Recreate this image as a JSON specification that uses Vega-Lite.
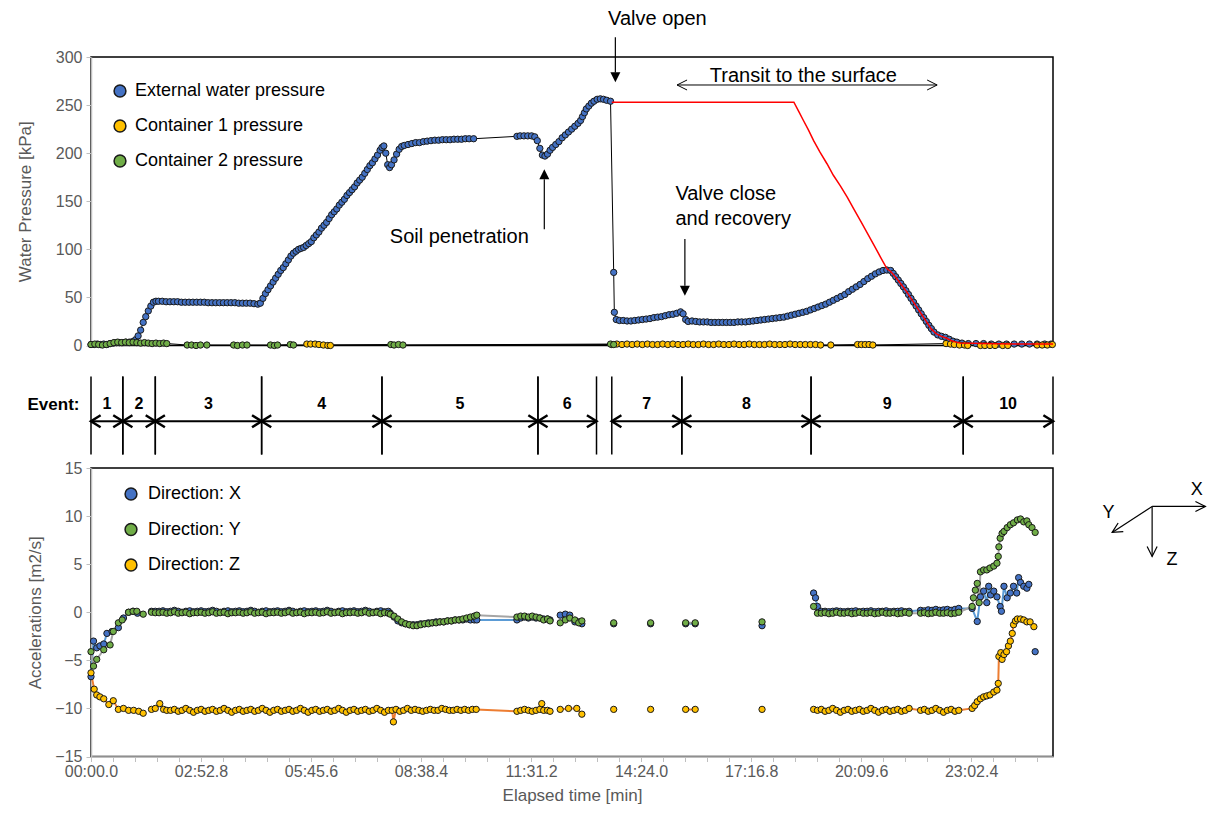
{
"$schema":"https://vega.github.io/schema/vega-lite/v6.json",
"padding":{"left":15,"top":8,"right":2,"bottom":2},
"background":"white",
"spacing":10,
"bounds":"flush",
"config":{
 "font":"Liberation Sans",
 "view":{"stroke":"#000","strokeWidth":1.5},
 "axis":{"domainColor":"#BFBFBF","domainWidth":1.5,"tickColor":"#BFBFBF","tickSize":5,"labelColor":"#595959","labelFontSize":16,"titleColor":"#595959","titleFontSize":17,"titleFontWeight":"normal","grid":false,"labelPadding":4,"labelOverlap":false},
 "legend":{"labelFontSize":18,"labelColor":"#000","symbolSize":140,"symbolType":"circle","rowPadding":16,"labelOffset":12,"padding":0,"labelLimit":500}
},
"resolve":{"scale":{"color":"independent","x":"independent","y":"independent"},"legend":{"color":"independent"}},
"datasets":{
"ext":[{"sec":0,"kPa":1},{"sec":5,"kPa":1},{"sec":10,"kPa":1.5},{"sec":15,"kPa":1},{"sec":20,"kPa":1.5},{"sec":25,"kPa":1},{"sec":30,"kPa":2},{"sec":35,"kPa":2.5},{"sec":40,"kPa":3},{"sec":45,"kPa":3},{"sec":50,"kPa":3},{"sec":55,"kPa":3.5},{"sec":60,"kPa":3.5},{"sec":65,"kPa":4},{"sec":70,"kPa":6},{"sec":74,"kPa":10},{"sec":78,"kPa":16},{"sec":82,"kPa":24},{"sec":86,"kPa":30},{"sec":90,"kPa":36},{"sec":94,"kPa":41},{"sec":98,"kPa":45},{"sec":102,"kPa":46},{"sec":106,"kPa":46},{"sec":112,"kPa":46},{"sec":118,"kPa":45.5},{"sec":124,"kPa":45.5},{"sec":130,"kPa":45.5},{"sec":136,"kPa":45.5},{"sec":142,"kPa":45},{"sec":148,"kPa":45},{"sec":154,"kPa":45},{"sec":160,"kPa":45},{"sec":166,"kPa":45},{"sec":172,"kPa":45},{"sec":178,"kPa":45},{"sec":184,"kPa":44.5},{"sec":190,"kPa":44.5},{"sec":196,"kPa":44.5},{"sec":202,"kPa":44.5},{"sec":208,"kPa":44.5},{"sec":214,"kPa":44.5},{"sec":220,"kPa":44.5},{"sec":226,"kPa":44.5},{"sec":232,"kPa":44},{"sec":238,"kPa":44},{"sec":244,"kPa":44},{"sec":250,"kPa":44},{"sec":256,"kPa":43.5},{"sec":262,"kPa":43},{"sec":266,"kPa":44},{"sec":270,"kPa":49},{"sec":274,"kPa":54},{"sec":278,"kPa":58},{"sec":282,"kPa":62},{"sec":286,"kPa":66},{"sec":290,"kPa":70},{"sec":294,"kPa":74},{"sec":298,"kPa":78},{"sec":302,"kPa":81},{"sec":306,"kPa":85},{"sec":310,"kPa":89},{"sec":314,"kPa":93},{"sec":318,"kPa":96},{"sec":322,"kPa":98},{"sec":326,"kPa":100},{"sec":330,"kPa":101},{"sec":334,"kPa":102},{"sec":338,"kPa":104},{"sec":342,"kPa":106},{"sec":346,"kPa":108},{"sec":350,"kPa":112},{"sec":354,"kPa":115},{"sec":358,"kPa":118},{"sec":362,"kPa":122},{"sec":366,"kPa":125},{"sec":370,"kPa":128},{"sec":374,"kPa":132},{"sec":378,"kPa":136},{"sec":382,"kPa":139},{"sec":386,"kPa":142},{"sec":390,"kPa":146},{"sec":394,"kPa":149},{"sec":398,"kPa":152},{"sec":402,"kPa":156},{"sec":406,"kPa":159},{"sec":410,"kPa":162},{"sec":414,"kPa":165},{"sec":418,"kPa":169},{"sec":422,"kPa":172},{"sec":426,"kPa":175},{"sec":430,"kPa":179},{"sec":434,"kPa":183},{"sec":438,"kPa":187},{"sec":442,"kPa":190},{"sec":446,"kPa":194},{"sec":450,"kPa":198},{"sec":454,"kPa":203},{"sec":457,"kPa":206},{"sec":460,"kPa":207.5},{"sec":463,"kPa":200},{"sec":466,"kPa":188},{"sec":469,"kPa":185},{"sec":472,"kPa":188},{"sec":476,"kPa":193},{"sec":480,"kPa":199},{"sec":484,"kPa":204},{"sec":488,"kPa":207},{"sec":492,"kPa":208},{"sec":498,"kPa":209},{"sec":504,"kPa":210},{"sec":510,"kPa":211},{"sec":516,"kPa":211},{"sec":522,"kPa":212},{"sec":528,"kPa":212.5},{"sec":534,"kPa":213},{"sec":540,"kPa":213.5},{"sec":546,"kPa":213.5},{"sec":552,"kPa":214},{"sec":558,"kPa":214},{"sec":564,"kPa":214},{"sec":570,"kPa":214.5},{"sec":576,"kPa":214.5},{"sec":582,"kPa":214.5},{"sec":588,"kPa":215},{"sec":594,"kPa":215},{"sec":601,"kPa":215},{"sec":669,"kPa":217.5},{"sec":674,"kPa":218},{"sec":680,"kPa":218},{"sec":686,"kPa":218},{"sec":692,"kPa":218},{"sec":697,"kPa":217},{"sec":701,"kPa":213},{"sec":705,"kPa":205},{"sec":709,"kPa":198},{"sec":713,"kPa":197},{"sec":717,"kPa":199},{"sec":721,"kPa":203},{"sec":725,"kPa":206},{"sec":730,"kPa":209},{"sec":735,"kPa":212},{"sec":740,"kPa":216},{"sec":745,"kPa":219},{"sec":750,"kPa":222},{"sec":755,"kPa":225},{"sec":760,"kPa":228},{"sec":765,"kPa":231},{"sec":769,"kPa":234},{"sec":772,"kPa":238},{"sec":775,"kPa":242},{"sec":778,"kPa":246},{"sec":782,"kPa":249},{"sec":786,"kPa":252},{"sec":790,"kPa":254},{"sec":795,"kPa":256},{"sec":800,"kPa":256.5},{"sec":805,"kPa":256},{"sec":810,"kPa":255},{"sec":816,"kPa":254},{"sec":821,"kPa":76},{"sec":822,"kPa":34.5},{"sec":825,"kPa":27},{"sec":830,"kPa":26},{"sec":836,"kPa":26},{"sec":842,"kPa":25.5},{"sec":848,"kPa":25.5},{"sec":854,"kPa":26},{"sec":860,"kPa":26.5},{"sec":866,"kPa":27},{"sec":872,"kPa":27.5},{"sec":878,"kPa":28},{"sec":884,"kPa":29},{"sec":890,"kPa":29.5},{"sec":896,"kPa":30},{"sec":902,"kPa":31},{"sec":908,"kPa":32},{"sec":914,"kPa":32.5},{"sec":920,"kPa":33.5},{"sec":926,"kPa":35},{"sec":930,"kPa":33},{"sec":934,"kPa":27},{"sec":938,"kPa":25},{"sec":944,"kPa":25.5},{"sec":950,"kPa":25},{"sec":956,"kPa":24.5},{"sec":962,"kPa":24.5},{"sec":968,"kPa":24.5},{"sec":974,"kPa":24},{"sec":980,"kPa":24},{"sec":986,"kPa":24},{"sec":992,"kPa":24},{"sec":998,"kPa":24},{"sec":1004,"kPa":24},{"sec":1010,"kPa":24},{"sec":1016,"kPa":24.5},{"sec":1022,"kPa":24.5},{"sec":1028,"kPa":24.5},{"sec":1034,"kPa":25},{"sec":1040,"kPa":25.5},{"sec":1046,"kPa":26},{"sec":1052,"kPa":26.5},{"sec":1058,"kPa":27},{"sec":1064,"kPa":27.5},{"sec":1070,"kPa":28},{"sec":1076,"kPa":28.5},{"sec":1082,"kPa":29},{"sec":1088,"kPa":29.5},{"sec":1094,"kPa":30.5},{"sec":1100,"kPa":31.5},{"sec":1106,"kPa":32.5},{"sec":1112,"kPa":33.5},{"sec":1118,"kPa":34.5},{"sec":1124,"kPa":35.5},{"sec":1130,"kPa":37},{"sec":1136,"kPa":38.5},{"sec":1142,"kPa":40},{"sec":1148,"kPa":41.5},{"sec":1154,"kPa":43},{"sec":1160,"kPa":45},{"sec":1166,"kPa":47},{"sec":1172,"kPa":49},{"sec":1178,"kPa":51},{"sec":1184,"kPa":53},{"sec":1190,"kPa":56},{"sec":1196,"kPa":58.5},{"sec":1202,"kPa":61},{"sec":1208,"kPa":63.5},{"sec":1214,"kPa":66.5},{"sec":1220,"kPa":69.5},{"sec":1226,"kPa":72},{"sec":1232,"kPa":74.5},{"sec":1238,"kPa":76.5},{"sec":1244,"kPa":78},{"sec":1250,"kPa":78.5},{"sec":1256,"kPa":78},{"sec":1260,"kPa":75},{"sec":1264,"kPa":71.5},{"sec":1268,"kPa":68},{"sec":1272,"kPa":64.5},{"sec":1276,"kPa":61},{"sec":1280,"kPa":57},{"sec":1284,"kPa":53},{"sec":1288,"kPa":49},{"sec":1292,"kPa":45},{"sec":1296,"kPa":41},{"sec":1300,"kPa":37},{"sec":1304,"kPa":33},{"sec":1308,"kPa":29},{"sec":1312,"kPa":25},{"sec":1316,"kPa":21},{"sec":1320,"kPa":17.5},{"sec":1324,"kPa":14},{"sec":1330,"kPa":11},{"sec":1336,"kPa":9.5},{"sec":1342,"kPa":8.5},{"sec":1348,"kPa":6.5},{"sec":1354,"kPa":4.5},{"sec":1360,"kPa":3.5},{"sec":1368,"kPa":2.5},{"sec":1378,"kPa":2},{"sec":1390,"kPa":2},{"sec":1402,"kPa":2},{"sec":1414,"kPa":1.5},{"sec":1426,"kPa":1.5},{"sec":1438,"kPa":1.5},{"sec":1450,"kPa":1.5},{"sec":1462,"kPa":1.5},{"sec":1474,"kPa":1.5},{"sec":1486,"kPa":1.5},{"sec":1498,"kPa":1.5},{"sec":1508,"kPa":1.5}],
"c1":[{"sec":339,"kPa":1.5},{"sec":345,"kPa":1.5},{"sec":352,"kPa":1.5},{"sec":358,"kPa":1},{"sec":365,"kPa":0.5},{"sec":372,"kPa":0},{"sec":376,"kPa":0},{"sec":818,"kPa":1},{"sec":826,"kPa":1.5},{"sec":834,"kPa":1},{"sec":842,"kPa":1.5},{"sec":850,"kPa":1},{"sec":858,"kPa":1.5},{"sec":866,"kPa":1},{"sec":874,"kPa":1.5},{"sec":882,"kPa":1},{"sec":890,"kPa":1},{"sec":898,"kPa":1.5},{"sec":906,"kPa":1},{"sec":914,"kPa":1.5},{"sec":922,"kPa":1},{"sec":930,"kPa":1},{"sec":938,"kPa":1.5},{"sec":946,"kPa":1},{"sec":954,"kPa":1},{"sec":962,"kPa":1.5},{"sec":970,"kPa":1},{"sec":978,"kPa":1},{"sec":986,"kPa":1.5},{"sec":994,"kPa":1},{"sec":1002,"kPa":1},{"sec":1010,"kPa":1.5},{"sec":1018,"kPa":1},{"sec":1026,"kPa":1},{"sec":1034,"kPa":1.5},{"sec":1042,"kPa":1},{"sec":1050,"kPa":1},{"sec":1058,"kPa":1},{"sec":1066,"kPa":1.5},{"sec":1074,"kPa":1},{"sec":1082,"kPa":1},{"sec":1090,"kPa":1},{"sec":1098,"kPa":1.5},{"sec":1106,"kPa":1},{"sec":1114,"kPa":1},{"sec":1122,"kPa":1},{"sec":1130,"kPa":1},{"sec":1138,"kPa":1},{"sec":1146,"kPa":0.5},{"sec":1162,"kPa":0.5},{"sec":1204,"kPa":1},{"sec":1210,"kPa":1},{"sec":1216,"kPa":1},{"sec":1222,"kPa":1},{"sec":1228,"kPa":0.5},{"sec":1343,"kPa":2},{"sec":1350,"kPa":1.5},{"sec":1356,"kPa":1},{"sec":1364,"kPa":0.5},{"sec":1372,"kPa":0.5},{"sec":1377,"kPa":0},{"sec":1397,"kPa":0},{"sec":1404,"kPa":0},{"sec":1412,"kPa":0},{"sec":1420,"kPa":0},{"sec":1432,"kPa":0},{"sec":1440,"kPa":0},{"sec":1486,"kPa":0.5},{"sec":1494,"kPa":0.5},{"sec":1502,"kPa":0.5},{"sec":1510,"kPa":1}],
"c2":[{"sec":0,"kPa":1},{"sec":6,"kPa":1.5},{"sec":12,"kPa":1},{"sec":18,"kPa":0.5},{"sec":24,"kPa":1},{"sec":30,"kPa":2},{"sec":36,"kPa":3},{"sec":42,"kPa":3.5},{"sec":48,"kPa":3},{"sec":54,"kPa":3.5},{"sec":60,"kPa":3},{"sec":66,"kPa":3.5},{"sec":72,"kPa":3},{"sec":78,"kPa":2.5},{"sec":84,"kPa":3},{"sec":90,"kPa":2.5},{"sec":96,"kPa":2},{"sec":102,"kPa":2.5},{"sec":108,"kPa":2},{"sec":114,"kPa":2.5},{"sec":119,"kPa":2},{"sec":151,"kPa":0.5},{"sec":158,"kPa":0.5},{"sec":165,"kPa":0},{"sec":172,"kPa":0.5},{"sec":182,"kPa":0.5},{"sec":224,"kPa":0.5},{"sec":230,"kPa":0},{"sec":238,"kPa":0.5},{"sec":245,"kPa":0.5},{"sec":282,"kPa":0.5},{"sec":288,"kPa":0},{"sec":293,"kPa":0.5},{"sec":313,"kPa":1},{"sec":318,"kPa":0.5},{"sec":471,"kPa":1},{"sec":476,"kPa":0.5},{"sec":483,"kPa":1},{"sec":490,"kPa":0.5},{"sec":816,"kPa":1.5},{"sec":821,"kPa":1}],
"transit":[{"sec":818,"kPa":253},{"sec":860,"kPa":253},{"sec":900,"kPa":253},{"sec":950,"kPa":253},{"sec":1000,"kPa":253},{"sec":1050,"kPa":253},{"sec":1104,"kPa":253},{"sec":1112,"kPa":243},{"sec":1119,"kPa":234},{"sec":1127,"kPa":224},{"sec":1135,"kPa":213},{"sec":1145,"kPa":201},{"sec":1156,"kPa":189},{"sec":1166,"kPa":177},{"sec":1177,"kPa":166},{"sec":1188,"kPa":154},{"sec":1198,"kPa":142},{"sec":1210,"kPa":128},{"sec":1220,"kPa":116},{"sec":1230,"kPa":104},{"sec":1240,"kPa":92},{"sec":1250,"kPa":80},{"sec":1256,"kPa":77},{"sec":1264,"kPa":71},{"sec":1272,"kPa":64},{"sec":1280,"kPa":57},{"sec":1288,"kPa":49},{"sec":1296,"kPa":41},{"sec":1304,"kPa":33},{"sec":1312,"kPa":25},{"sec":1320,"kPa":17},{"sec":1328,"kPa":12},{"sec":1336,"kPa":9.5},{"sec":1344,"kPa":7.5},{"sec":1350,"kPa":5.5},{"sec":1356,"kPa":4},{"sec":1365,"kPa":2.5},{"sec":1400,"kPa":2},{"sec":1450,"kPa":1.5},{"sec":1511,"kPa":1.5}],
"events":[{"event":"1","start":0,"end":50},{"event":"2","start":50,"end":101},{"event":"3","start":101,"end":268},{"event":"4","start":268,"end":457},{"event":"5","start":457,"end":702},{"event":"6","start":702,"end":794},{"event":"7","start":818,"end":928},{"event":"8","start":928,"end":1131},{"event":"9","start":1131,"end":1370},{"event":"10","start":1370,"end":1511}],
"accX":[{"sec":0,"acc":-6.7},{"sec":4,"acc":-3.0},{"sec":9,"acc":-3.7},{"sec":14,"acc":-3.5},{"sec":20,"acc":-3.3},{"sec":25,"acc":-2.2},{"sec":33,"acc":-2.0},{"sec":43,"acc":-1.6},{"sec":51,"acc":-0.6},{"sec":59,"acc":0},{"sec":66,"acc":0.1},{"sec":73,"acc":-0.1},{"sec":88,"acc":null},{"sec":95,"acc":0.1},{"sec":101,"acc":0.1},
{"sec":107,"acc":0.1},{"sec":113,"acc":0.15},{"sec":119,"acc":0.05},{"sec":125,"acc":0.1},{"sec":131,"acc":0.2},{"sec":137,"acc":0.1},{"sec":143,"acc":0},{"sec":149,"acc":0.1},{"sec":155,"acc":0.15},{"sec":161,"acc":0.05},{"sec":167,"acc":0.1},{"sec":173,"acc":0.15},{"sec":179,"acc":0.05},{"sec":185,"acc":0.1},{"sec":191,"acc":0.2},{"sec":197,"acc":0.1},{"sec":203,"acc":0},{"sec":209,"acc":0.1},{"sec":215,"acc":0.15},{"sec":221,"acc":0.05},{"sec":227,"acc":0.1},{"sec":233,"acc":0.15},{"sec":239,"acc":0.05},{"sec":245,"acc":0.1},{"sec":251,"acc":0.2},{"sec":257,"acc":0.1},{"sec":263,"acc":0},{"sec":269,"acc":0.1},{"sec":275,"acc":0.15},{"sec":281,"acc":0.05},{"sec":287,"acc":0.1},{"sec":293,"acc":0.15},{"sec":299,"acc":0.05},{"sec":305,"acc":0.1},{"sec":311,"acc":0.2},{"sec":317,"acc":0.1},{"sec":323,"acc":0},{"sec":329,"acc":0.1},{"sec":335,"acc":0.15},{"sec":341,"acc":0.05},{"sec":347,"acc":0.1},{"sec":353,"acc":0.15},{"sec":359,"acc":0.05},{"sec":365,"acc":0.1},{"sec":371,"acc":0.2},{"sec":377,"acc":0.1},{"sec":383,"acc":0},{"sec":389,"acc":0.1},{"sec":395,"acc":0.15},{"sec":401,"acc":0.05},{"sec":407,"acc":0.1},{"sec":413,"acc":0.15},{"sec":419,"acc":0.05},{"sec":425,"acc":0.1},{"sec":431,"acc":0.2},{"sec":437,"acc":0.1},{"sec":443,"acc":0},{"sec":449,"acc":0.1},{"sec":455,"acc":0.15},{"sec":461,"acc":0.05},{"sec":467,"acc":0.1},
{"sec":470,"acc":-0.1},{"sec":476,"acc":-0.5},{"sec":482,"acc":-0.9},{"sec":488,"acc":-1.1},{"sec":494,"acc":-1.2},{"sec":500,"acc":-1.3},{"sec":506,"acc":-1.3},{"sec":512,"acc":-1.3},{"sec":518,"acc":-1.2},{"sec":524,"acc":-1.2},{"sec":530,"acc":-1.1},{"sec":536,"acc":-1.1},{"sec":542,"acc":-1.0},{"sec":548,"acc":-1.0},{"sec":554,"acc":-1.0},{"sec":560,"acc":-0.9},{"sec":566,"acc":-0.9},{"sec":572,"acc":-0.8},{"sec":578,"acc":-0.8},{"sec":584,"acc":-0.8},{"sec":590,"acc":-0.7},{"sec":596,"acc":-0.8},{"sec":602,"acc":-0.8},{"sec":606,"acc":-0.8},{"sec":669,"acc":-0.8},{"sec":675,"acc":-0.6},{"sec":681,"acc":-0.5},{"sec":687,"acc":-0.6},{"sec":693,"acc":-0.5},{"sec":699,"acc":-0.6},{"sec":705,"acc":-0.6},{"sec":711,"acc":-0.7},{"sec":717,"acc":-0.7},{"sec":721,"acc":-0.8},{"sec":729,"acc":null},{"sec":737,"acc":-0.3},{"sec":745,"acc":-0.2},{"sec":752,"acc":-0.3},{"sec":760,"acc":-1.0},{"sec":766,"acc":-1.0},{"sec":771,"acc":-1.2},{"sec":790,"acc":null},{"sec":821,"acc":-1.2},{"sec":850,"acc":null},{"sec":879,"acc":-1.2},{"sec":905,"acc":null},{"sec":934,"acc":-1.2},{"sec":949,"acc":-1.2},{"sec":990,"acc":null},{"sec":1054,"acc":-1.4},{"sec":1100,"acc":null},
{"sec":1135,"acc":2.0},{"sec":1138,"acc":1.5},{"sec":1141,"acc":0.6},{"sec":1147,"acc":0.1},{"sec":1153,"acc":0.1},{"sec":1159,"acc":0.05},{"sec":1165,"acc":0.1},{"sec":1171,"acc":0.15},{"sec":1177,"acc":0.1},{"sec":1183,"acc":0.05},{"sec":1189,"acc":0.1},{"sec":1195,"acc":0.1},{"sec":1201,"acc":0.15},{"sec":1207,"acc":0.05},{"sec":1213,"acc":0.1},{"sec":1219,"acc":0.1},{"sec":1225,"acc":0.15},{"sec":1231,"acc":0.05},{"sec":1237,"acc":0.1},{"sec":1243,"acc":0.1},{"sec":1249,"acc":0.15},{"sec":1255,"acc":0.05},{"sec":1261,"acc":0.1},{"sec":1267,"acc":0.1},{"sec":1273,"acc":0.15},{"sec":1279,"acc":0.05},{"sec":1285,"acc":0.1},{"sec":1303,"acc":0.2},{"sec":1309,"acc":0.15},{"sec":1315,"acc":0.25},{"sec":1321,"acc":0.2},{"sec":1327,"acc":0.3},{"sec":1333,"acc":0.2},{"sec":1339,"acc":0.25},{"sec":1345,"acc":0.3},{"sec":1351,"acc":0.2},{"sec":1357,"acc":0.3},{"sec":1363,"acc":0.4},
{"sec":1384,"acc":0.4},{"sec":1392,"acc":-0.96},{"sec":1397,"acc":1.6},{"sec":1402,"acc":2.2},{"sec":1407,"acc":1.0},{"sec":1410,"acc":2.7},{"sec":1413,"acc":1.8},{"sec":1418,"acc":2.2},{"sec":1423,"acc":1.6},{"sec":1428,"acc":0.6},{"sec":1430,"acc":0.1},{"sec":1434,"acc":2.7},{"sec":1439,"acc":1.5},{"sec":1444,"acc":2.0},{"sec":1449,"acc":2.7},{"sec":1454,"acc":2.0},{"sec":1457,"acc":3.6},{"sec":1460,"acc":3.1},{"sec":1465,"acc":2.7},{"sec":1470,"acc":2.5},{"sec":1473,"acc":2.9},{"sec":1478,"acc":null},{"sec":1483,"acc":-4.1}],
"accY":[{"sec":0,"acc":-4.1},{"sec":4,"acc":-5.6},{"sec":9,"acc":-4.9},{"sec":20,"acc":-3.9},{"sec":30,"acc":-3.4},{"sec":35,"acc":-2.0},{"sec":43,"acc":-1.1},{"sec":49,"acc":-0.8},{"sec":59,"acc":0},{"sec":66,"acc":0.1},{"sec":72,"acc":0.1},{"sec":82,"acc":-0.2},{"sec":88,"acc":null},{"sec":95,"acc":0},{"sec":101,"acc":-0.05},
{"sec":107,"acc":-0.05},{"sec":113,"acc":0},{"sec":119,"acc":-0.1},{"sec":125,"acc":-0.05},{"sec":131,"acc":0.05},{"sec":137,"acc":-0.1},{"sec":143,"acc":-0.05},{"sec":149,"acc":0},{"sec":155,"acc":-0.15},{"sec":161,"acc":-0.05},{"sec":167,"acc":-0.05},{"sec":173,"acc":0},{"sec":179,"acc":-0.1},{"sec":185,"acc":-0.05},{"sec":191,"acc":0.05},{"sec":197,"acc":-0.1},{"sec":203,"acc":-0.05},{"sec":209,"acc":0},{"sec":215,"acc":-0.15},{"sec":221,"acc":-0.05},{"sec":227,"acc":-0.05},{"sec":233,"acc":0},{"sec":239,"acc":-0.1},{"sec":245,"acc":-0.05},{"sec":251,"acc":0.05},{"sec":257,"acc":-0.1},{"sec":263,"acc":-0.05},{"sec":269,"acc":0},{"sec":275,"acc":-0.15},{"sec":281,"acc":-0.05},{"sec":287,"acc":-0.05},{"sec":293,"acc":0},{"sec":299,"acc":-0.1},{"sec":305,"acc":-0.05},{"sec":311,"acc":0.05},{"sec":317,"acc":-0.1},{"sec":323,"acc":-0.05},{"sec":329,"acc":0},{"sec":335,"acc":-0.15},{"sec":341,"acc":-0.05},{"sec":347,"acc":-0.05},{"sec":353,"acc":0},{"sec":359,"acc":-0.1},{"sec":365,"acc":-0.05},{"sec":371,"acc":0.05},{"sec":377,"acc":-0.1},{"sec":383,"acc":-0.05},{"sec":389,"acc":0},{"sec":395,"acc":-0.15},{"sec":401,"acc":-0.05},{"sec":407,"acc":-0.05},{"sec":413,"acc":0},{"sec":419,"acc":-0.1},{"sec":425,"acc":-0.05},{"sec":431,"acc":0.05},{"sec":437,"acc":-0.1},{"sec":443,"acc":-0.05},{"sec":449,"acc":0},{"sec":455,"acc":-0.15},{"sec":461,"acc":-0.05},{"sec":467,"acc":-0.1},
{"sec":470,"acc":-0.2},{"sec":476,"acc":-0.4},{"sec":482,"acc":-0.7},{"sec":488,"acc":-1.0},{"sec":494,"acc":-1.2},{"sec":500,"acc":-1.3},{"sec":506,"acc":-1.4},{"sec":512,"acc":-1.4},{"sec":518,"acc":-1.3},{"sec":524,"acc":-1.2},{"sec":530,"acc":-1.2},{"sec":536,"acc":-1.1},{"sec":542,"acc":-1.1},{"sec":548,"acc":-1.0},{"sec":554,"acc":-1.0},{"sec":560,"acc":-0.9},{"sec":566,"acc":-0.9},{"sec":572,"acc":-0.8},{"sec":578,"acc":-0.8},{"sec":584,"acc":-0.7},{"sec":590,"acc":-0.6},{"sec":596,"acc":-0.5},{"sec":602,"acc":-0.4},{"sec":606,"acc":-0.3},{"sec":669,"acc":-0.5},{"sec":675,"acc":-0.4},{"sec":681,"acc":-0.4},{"sec":687,"acc":-0.5},{"sec":693,"acc":-0.4},{"sec":699,"acc":-0.5},{"sec":705,"acc":-0.6},{"sec":711,"acc":-0.8},{"sec":717,"acc":-0.7},{"sec":721,"acc":-0.9},{"sec":729,"acc":null},{"sec":737,"acc":-1.1},{"sec":745,"acc":-0.8},{"sec":752,"acc":-0.6},{"sec":760,"acc":-0.8},{"sec":766,"acc":-1.1},{"sec":771,"acc":-0.9},{"sec":790,"acc":null},{"sec":821,"acc":-1.1},{"sec":850,"acc":null},{"sec":879,"acc":-1.1},{"sec":905,"acc":null},{"sec":934,"acc":-1.1},{"sec":949,"acc":-1.1},{"sec":990,"acc":null},{"sec":1054,"acc":-1.0},{"sec":1100,"acc":null},
{"sec":1135,"acc":0.6},{"sec":1141,"acc":-0.1},{"sec":1147,"acc":-0.1},{"sec":1153,"acc":-0.05},{"sec":1159,"acc":-0.15},{"sec":1165,"acc":-0.1},{"sec":1171,"acc":0},{"sec":1177,"acc":-0.1},{"sec":1183,"acc":-0.1},{"sec":1189,"acc":-0.05},{"sec":1195,"acc":-0.15},{"sec":1201,"acc":-0.1},{"sec":1207,"acc":0},{"sec":1213,"acc":-0.1},{"sec":1219,"acc":-0.1},{"sec":1225,"acc":-0.05},{"sec":1231,"acc":-0.15},{"sec":1237,"acc":-0.1},{"sec":1243,"acc":0},{"sec":1249,"acc":-0.1},{"sec":1255,"acc":-0.1},{"sec":1261,"acc":-0.05},{"sec":1267,"acc":-0.15},{"sec":1273,"acc":-0.1},{"sec":1279,"acc":0},{"sec":1285,"acc":-0.1},{"sec":1303,"acc":-0.1},{"sec":1309,"acc":-0.05},{"sec":1315,"acc":-0.15},{"sec":1321,"acc":-0.1},{"sec":1327,"acc":0},{"sec":1333,"acc":-0.1},{"sec":1339,"acc":-0.1},{"sec":1345,"acc":-0.05},{"sec":1351,"acc":-0.15},{"sec":1357,"acc":-0.1},{"sec":1363,"acc":0},
{"sec":1384,"acc":0.6},{"sec":1386,"acc":1.5},{"sec":1389,"acc":2.3},{"sec":1392,"acc":3.0},{"sec":1395,"acc":1.0},{"sec":1397,"acc":4.2},{"sec":1402,"acc":4.4},{"sec":1407,"acc":4.4},{"sec":1412,"acc":4.6},{"sec":1418,"acc":4.8},{"sec":1423,"acc":5.1},{"sec":1425,"acc":5.8},{"sec":1426,"acc":6.8},{"sec":1428,"acc":7.7},{"sec":1431,"acc":8.2},{"sec":1434,"acc":8.4},{"sec":1439,"acc":8.8},{"sec":1444,"acc":9.1},{"sec":1449,"acc":9.3},{"sec":1455,"acc":9.6},{"sec":1460,"acc":9.7},{"sec":1465,"acc":9.4},{"sec":1470,"acc":9.5},{"sec":1473,"acc":9.1},{"sec":1478,"acc":8.8},{"sec":1483,"acc":8.3}],
"accZ":[{"sec":0,"acc":-6.3},{"sec":5,"acc":-8.0},{"sec":9,"acc":-8.6},{"sec":14,"acc":-8.8},{"sec":20,"acc":-9.0},{"sec":28,"acc":-9.6},{"sec":35,"acc":-9.2},{"sec":43,"acc":-10.1},{"sec":51,"acc":-10.0},{"sec":59,"acc":-10.2},{"sec":67,"acc":-10.2},{"sec":75,"acc":-10.3},{"sec":82,"acc":-10.5},{"sec":88,"acc":null},{"sec":95,"acc":-10.1},{"sec":101,"acc":-10.0},{"sec":108,"acc":-9.5},{"sec":114,"acc":-10.1},{"sec":119,"acc":-10.2},
{"sec":125,"acc":-10.2},{"sec":131,"acc":-10.1},{"sec":137,"acc":-10.3},{"sec":143,"acc":-10.2},{"sec":149,"acc":-10.0},{"sec":155,"acc":-10.2},{"sec":161,"acc":-10.4},{"sec":167,"acc":-10.2},{"sec":173,"acc":-10.1},{"sec":179,"acc":-10.3},{"sec":185,"acc":-10.2},{"sec":191,"acc":-10.1},{"sec":197,"acc":-10.3},{"sec":203,"acc":-10.2},{"sec":209,"acc":-10.0},{"sec":215,"acc":-10.2},{"sec":221,"acc":-10.4},{"sec":227,"acc":-10.2},{"sec":233,"acc":-10.1},{"sec":239,"acc":-10.3},{"sec":245,"acc":-10.2},{"sec":251,"acc":-10.1},{"sec":257,"acc":-10.3},{"sec":263,"acc":-10.2},{"sec":269,"acc":-10.0},{"sec":275,"acc":-10.2},{"sec":281,"acc":-10.4},{"sec":287,"acc":-10.2},{"sec":293,"acc":-10.1},{"sec":299,"acc":-10.3},{"sec":305,"acc":-10.2},{"sec":311,"acc":-10.1},{"sec":317,"acc":-10.3},{"sec":323,"acc":-10.2},{"sec":329,"acc":-10.0},{"sec":335,"acc":-10.2},{"sec":341,"acc":-10.4},{"sec":347,"acc":-10.2},{"sec":353,"acc":-10.1},{"sec":359,"acc":-10.3},{"sec":365,"acc":-10.2},{"sec":371,"acc":-10.1},{"sec":377,"acc":-10.3},{"sec":383,"acc":-10.2},{"sec":389,"acc":-10.0},{"sec":395,"acc":-10.2},{"sec":401,"acc":-10.4},{"sec":407,"acc":-10.2},{"sec":413,"acc":-10.1},{"sec":419,"acc":-10.3},{"sec":425,"acc":-10.2},{"sec":431,"acc":-10.1},{"sec":437,"acc":-10.3},{"sec":443,"acc":-10.2},{"sec":449,"acc":-10.0},{"sec":455,"acc":-10.2},{"sec":461,"acc":-10.4},{"sec":467,"acc":-10.2},
{"sec":473,"acc":-10.2},{"sec":475,"acc":-11.4},{"sec":479,"acc":-10.1},{"sec":485,"acc":-10.3},{"sec":491,"acc":-10.2},{"sec":497,"acc":-10.0},{"sec":503,"acc":-10.2},{"sec":509,"acc":-10.1},{"sec":515,"acc":-10.2},{"sec":521,"acc":-10.3},{"sec":527,"acc":-10.2},{"sec":533,"acc":-10.1},{"sec":539,"acc":-10.2},{"sec":545,"acc":-10.2},{"sec":551,"acc":-10.0},{"sec":557,"acc":-10.1},{"sec":563,"acc":-10.2},{"sec":569,"acc":-10.2},{"sec":575,"acc":-10.1},{"sec":581,"acc":-10.2},{"sec":587,"acc":-10.1},{"sec":593,"acc":-10.2},{"sec":599,"acc":-10.1},{"sec":605,"acc":-10.1},
{"sec":669,"acc":-10.3},{"sec":675,"acc":-10.2},{"sec":681,"acc":-10.1},{"sec":687,"acc":-10.2},{"sec":693,"acc":-10.3},{"sec":699,"acc":-10.2},{"sec":705,"acc":-10.1},{"sec":708,"acc":-9.5},{"sec":711,"acc":-10.2},{"sec":717,"acc":-10.2},{"sec":721,"acc":-10.3},{"sec":729,"acc":null},{"sec":737,"acc":-10.1},{"sec":750,"acc":-10.0},{"sec":763,"acc":-10.0},{"sec":771,"acc":-10.6},{"sec":790,"acc":null},{"sec":821,"acc":-10.1},{"sec":850,"acc":null},{"sec":879,"acc":-10.1},{"sec":905,"acc":null},{"sec":934,"acc":-10.1},{"sec":949,"acc":-10.1},{"sec":990,"acc":null},{"sec":1054,"acc":-10.1},{"sec":1100,"acc":null},
{"sec":1135,"acc":-10.1},{"sec":1141,"acc":-10.2},{"sec":1147,"acc":-10.1},{"sec":1153,"acc":-10.3},{"sec":1159,"acc":-10.2},{"sec":1165,"acc":-10.0},{"sec":1171,"acc":-10.2},{"sec":1177,"acc":-10.4},{"sec":1183,"acc":-10.2},{"sec":1189,"acc":-10.1},{"sec":1195,"acc":-10.3},{"sec":1201,"acc":-10.2},{"sec":1207,"acc":-10.1},{"sec":1213,"acc":-10.3},{"sec":1219,"acc":-10.2},{"sec":1225,"acc":-10.0},{"sec":1231,"acc":-10.2},{"sec":1237,"acc":-10.4},{"sec":1243,"acc":-10.2},{"sec":1249,"acc":-10.1},{"sec":1255,"acc":-10.3},{"sec":1261,"acc":-10.2},{"sec":1267,"acc":-10.1},{"sec":1273,"acc":-10.3},{"sec":1279,"acc":-10.2},{"sec":1285,"acc":-10.0},{"sec":1303,"acc":-10.2},{"sec":1309,"acc":-10.1},{"sec":1315,"acc":-10.3},{"sec":1321,"acc":-10.2},{"sec":1327,"acc":-10.0},{"sec":1333,"acc":-10.2},{"sec":1339,"acc":-10.4},{"sec":1345,"acc":-10.2},{"sec":1351,"acc":-10.1},{"sec":1357,"acc":-10.3},{"sec":1363,"acc":-10.2},
{"sec":1384,"acc":-10.0},{"sec":1388,"acc":-9.7},{"sec":1392,"acc":-9.3},{"sec":1397,"acc":-9.0},{"sec":1402,"acc":-8.8},{"sec":1407,"acc":-8.7},{"sec":1412,"acc":-8.6},{"sec":1418,"acc":-8.3},{"sec":1423,"acc":-8.1},{"sec":1425,"acc":-7.4},{"sec":1426,"acc":-4.6},{"sec":1429,"acc":-4.2},{"sec":1431,"acc":-4.9},{"sec":1434,"acc":-4.4},{"sec":1438,"acc":-4.1},{"sec":1441,"acc":-3.5},{"sec":1444,"acc":-3.0},{"sec":1447,"acc":-2.2},{"sec":1449,"acc":-1.3},{"sec":1452,"acc":-0.9},{"sec":1455,"acc":-0.7},{"sec":1460,"acc":-0.7},{"sec":1465,"acc":-0.8},{"sec":1470,"acc":-1.0},{"sec":1475,"acc":-1.0},{"sec":1481,"acc":-1.5}]
},
"vconcat":[
{
 "width":962,"height":288.5,
 "layer":[
  {"data":{"name":"c1"},"mark":{"type":"line","color":"#000","strokeWidth":1},
   "encoding":{"x":{"field":"sec","type":"quantitative","scale":{"domain":[0,1511],"nice":false,"zero":false},"axis":null},
    "y":{"field":"kPa","type":"quantitative","scale":{"domain":[0,300],"nice":false},"axis":{"values":[0,50,100,150,200,250,300],"title":"Water Pressure [kPa]","titlePadding":21}}}},
  {"data":{"name":"c2"},"mark":{"type":"line","color":"#000","strokeWidth":1},"encoding":{"x":{"field":"sec","type":"quantitative"},"y":{"field":"kPa","type":"quantitative"}}},
  {"data":{"name":"ext"},"mark":{"type":"line","color":"#000","strokeWidth":1},"encoding":{"x":{"field":"sec","type":"quantitative"},"y":{"field":"kPa","type":"quantitative"}}},
  {"data":{"name":"ext"},"mark":{"type":"point","filled":true,"size":40,"stroke":"#1a1a1a","strokeWidth":1,"opacity":1},
   "encoding":{"x":{"field":"sec","type":"quantitative"},"y":{"field":"kPa","type":"quantitative"},
    "color":{"datum":"External water pressure","type":"nominal","scale":{"domain":["External water pressure","Container 1 pressure","Container 2 pressure"],"range":["#4472C4","#FFC000","#70AD47"]},
     "legend":{"title":null,"orient":"none","legendX":20,"legendY":25,"rowPadding":17,"labelOffset":6,"encode":{"symbols":{"update":{"stroke":{"value":"#111"},"strokeWidth":{"value":1.5}}}}}}}},
  {"data":{"name":"c1"},"mark":{"type":"point","filled":true,"size":40,"stroke":"#1a1a1a","strokeWidth":1,"opacity":1},
   "encoding":{"x":{"field":"sec","type":"quantitative"},"y":{"field":"kPa","type":"quantitative"},"color":{"datum":"Container 1 pressure","type":"nominal"}}},
  {"data":{"name":"c2"},"mark":{"type":"point","filled":true,"size":40,"stroke":"#1a1a1a","strokeWidth":1,"opacity":1},
   "encoding":{"x":{"field":"sec","type":"quantitative"},"y":{"field":"kPa","type":"quantitative"},"color":{"datum":"Container 2 pressure","type":"nominal"}}},
  {"data":{"name":"transit"},"mark":{"type":"line","color":"#FF0000","strokeWidth":1.5},"encoding":{"x":{"field":"sec","type":"quantitative"},"y":{"field":"kPa","type":"quantitative"}}},
  {"data":{"values":[{}]},"mark":{"type":"text","text":"Valve open","fontSize":20,"color":"#000","align":"center","baseline":"middle"},"encoding":{"x":{"datum":889.6},"y":{"datum":339.5}}},
  {"data":{"values":[{}]},"mark":{"type":"rule","color":"#000","strokeWidth":1.2},"encoding":{"x":{"datum":823.6},"y":{"datum":320.5},"y2":{"datum":284}}},
  {"data":{"values":[{}]},"mark":{"type":"point","shape":"M-0.5,-1L0.5,-1L0,0Z","size":400,"filled":true,"color":"#000","strokeWidth":0,"opacity":1},"encoding":{"x":{"datum":823.6},"y":{"datum":273.7}}},
  {"data":{"values":[{}]},"mark":{"type":"text","text":"Transit to the surface","fontSize":20,"color":"#000","align":"center","baseline":"middle"},"encoding":{"x":{"datum":1118.9},"y":{"datum":280.2}}},
  {"data":{"values":[{}]},"mark":{"type":"rule","color":"#000","strokeWidth":1},"encoding":{"x":{"datum":920.5},"x2":{"datum":1329},"y":{"datum":270.9}}},
  {"data":{"values":[{}]},"mark":{"type":"point","shape":"M-1,-0.5L0,0L-1,0.5","size":400,"filled":false,"color":"#000","strokeWidth":1,"angle":180,"opacity":1},"encoding":{"x":{"datum":920.5},"y":{"datum":270.9}}},
  {"data":{"values":[{}]},"mark":{"type":"point","shape":"M-1,-0.5L0,0L-1,0.5","size":400,"filled":false,"color":"#000","strokeWidth":1,"opacity":1},"encoding":{"x":{"datum":1329},"y":{"datum":270.9}}},
  {"data":{"values":[{}]},"mark":{"type":"text","text":"Soil penetration","fontSize":20,"color":"#000","align":"center","baseline":"middle"},"encoding":{"x":{"datum":578.5},"y":{"datum":112.5}}},
  {"data":{"values":[{}]},"mark":{"type":"rule","color":"#000","strokeWidth":1.2},"encoding":{"x":{"datum":712},"y":{"datum":121},"y2":{"datum":173}}},
  {"data":{"values":[{}]},"mark":{"type":"point","shape":"M-0.5,1L0.5,1L0,0Z","size":400,"filled":true,"color":"#000","strokeWidth":0,"opacity":1},"encoding":{"x":{"datum":712},"y":{"datum":183.4}}},
  {"data":{"values":[{}]},"mark":{"type":"text","text":"Valve close","fontSize":20,"color":"#000","align":"left","baseline":"middle"},"encoding":{"x":{"datum":917.9},"y":{"datum":157.5}}},
  {"data":{"values":[{}]},"mark":{"type":"text","text":"and recovery","fontSize":20,"color":"#000","align":"left","baseline":"middle"},"encoding":{"x":{"datum":917.9},"y":{"datum":131.5}}},
  {"data":{"values":[{}]},"mark":{"type":"rule","color":"#000","strokeWidth":1.2},"encoding":{"x":{"datum":932.8},"y":{"datum":110.7},"y2":{"datum":62.2}}},
  {"data":{"values":[{}]},"mark":{"type":"point","shape":"M-0.5,-1L0.5,-1L0,0Z","size":400,"filled":true,"color":"#000","strokeWidth":0,"opacity":1},"encoding":{"x":{"datum":932.8},"y":{"datum":51.8}}}
 ]
},
{
 "width":962,"height":102,
 "view":{"stroke":null},
 "data":{"name":"events"},
 "layer":[
  {"mark":{"type":"rule","color":"#000","strokeWidth":1.5},
   "encoding":{"x":{"field":"start","type":"quantitative","scale":{"domain":[0,1511],"nice":false,"zero":false},"axis":null},
    "y":{"datum":0.034,"scale":{"domain":[0,1],"nice":false},"axis":{"title":"Event:","titleAngle":0,"titleFontWeight":"bold","titleColor":"#000","titleFontSize":17,"titleAlign":"right","titleBaseline":"middle","titleX":-12,"titleY":48.5,"domain":false,"ticks":false,"labels":false,"grid":false}},
    "y2":{"datum":0.8}}},
  {"mark":{"type":"rule","color":"#000","strokeWidth":1.5},"encoding":{"x":{"field":"end","type":"quantitative"},"y":{"datum":0.034},"y2":{"datum":0.8}}},
  {"mark":{"type":"rule","color":"#000","strokeWidth":2},"encoding":{"x":{"field":"start","type":"quantitative"},"x2":{"field":"end"},"y":{"datum":0.36}}},
  {"mark":{"type":"point","shape":"M-0.8,-0.5L0,0L-0.8,0.5","size":576,"filled":false,"color":"#000","strokeWidth":2.5,"angle":180,"opacity":1},"encoding":{"x":{"field":"start","type":"quantitative"},"y":{"datum":0.36}}},
  {"mark":{"type":"point","shape":"M-0.8,-0.5L0,0L-0.8,0.5","size":576,"filled":false,"color":"#000","strokeWidth":2.5,"opacity":1},"encoding":{"x":{"field":"end","type":"quantitative"},"y":{"datum":0.36}}},
  {"transform":[{"fold":["start","end"],"as":["edge","bound"]},{"aggregate":[{"op":"mean","field":"bound","as":"mid"}],"groupby":["event"]}],
   "mark":{"type":"text","fontWeight":"bold","fontSize":16,"color":"#000","baseline":"middle"},
   "encoding":{"x":{"field":"mid","type":"quantitative"},"y":{"datum":0.525},"text":{"field":"event","type":"nominal"}}}
 ]
},
{
 "width":962,"height":288.5,
 "resolve":{"axis":{"x":"independent"}},
 "layer":[
  {"data":{"name":"accX"},"mark":{"type":"line","color":"#5B9BD5","strokeWidth":2,"invalid":"break-paths-filter-domains"},
   "encoding":{"x":{"field":"sec","type":"quantitative","scale":{"domain":[0,1511],"nice":false,"zero":false},
     "axis":{"orient":"bottom","values":[0,34.56,69.12,103.68,138.24,172.8,207.36,241.92,276.48,311.04,345.6,380.16,414.72,449.28,483.84,518.4,552.96,587.52,622.08,656.64,691.2,725.76,760.32,794.88,829.44,864,898.56,933.12,967.68,1002.24,1036.8,1071.36,1105.92,1140.48,1175.04,1209.6,1244.16,1278.72,1313.28,1347.84,1382.4,1416.96,1451.52,1486.08],"labels":false,"title":null}},
    "y":{"field":"acc","type":"quantitative","scale":{"domain":[-15,15],"nice":false,"zero":false},"axis":{"values":[-15,-10,-5,0,5,10,15],"title":"Accelerations [m2/s]","titlePadding":10}}}},
  {"data":{"name":"accY"},"mark":{"type":"line","color":"#A5A5A5","strokeWidth":2,"invalid":"break-paths-filter-domains"},
   "encoding":{"x":{"field":"sec","type":"quantitative",
     "axis":{"orient":"bottom","values":[0,172.8,345.6,518.4,691.2,864,1036.8,1209.6,1382.4],"ticks":false,"domain":false,"labelPadding":7,
      "labelExpr":"format(floor(datum.value/60 + 0.00001),'02d') + ':' + format(datum.value - 60*floor(datum.value/60 + 0.00001), '04.1f')",
      "labelOverlap":false,"labelFlush":false,"title":"Elapsed time [min]","titlePadding":8}},
    "y":{"field":"acc","type":"quantitative"}}},
  {"data":{"name":"accZ"},"mark":{"type":"line","color":"#ED7D31","strokeWidth":2,"invalid":"break-paths-filter-domains"},"encoding":{"x":{"field":"sec","type":"quantitative","axis":null},"y":{"field":"acc","type":"quantitative"}}},
  {"data":{"name":"accX"},"mark":{"type":"point","filled":true,"size":40,"stroke":"#1a1a1a","strokeWidth":1,"opacity":1},
   "encoding":{"x":{"field":"sec","type":"quantitative","axis":null},"y":{"field":"acc","type":"quantitative"},
    "color":{"datum":"Direction: X","type":"nominal","scale":{"domain":["Direction: X","Direction: Y","Direction: Z"],"range":["#4472C4","#70AD47","#FFC000"]},
     "legend":{"title":null,"orient":"none","legendX":31,"legendY":17,"rowPadding":17.5,"labelOffset":8,"encode":{"symbols":{"update":{"stroke":{"value":"#111"},"strokeWidth":{"value":1.5}}}}}}}},
  {"data":{"name":"accY"},"mark":{"type":"point","filled":true,"size":40,"stroke":"#1a1a1a","strokeWidth":1,"opacity":1},
   "encoding":{"x":{"field":"sec","type":"quantitative","axis":null},"y":{"field":"acc","type":"quantitative"},"color":{"datum":"Direction: Y","type":"nominal"}}},
  {"data":{"name":"accZ"},"mark":{"type":"point","filled":true,"size":40,"stroke":"#1a1a1a","strokeWidth":1,"opacity":1},
   "encoding":{"x":{"field":"sec","type":"quantitative","axis":null},"y":{"field":"acc","type":"quantitative"},"color":{"datum":"Direction: Z","type":"nominal"}}},
  {"data":{"values":[{}]},"mark":{"type":"rule","color":"#000","strokeWidth":1.2},"encoding":{"x":{"datum":1666.7,"axis":null},"x2":{"datum":1750.4},"y":{"datum":11.0}}},
  {"data":{"values":[{}]},"mark":{"type":"rule","color":"#000","strokeWidth":1.2},"encoding":{"x":{"datum":1666.7,"axis":null},"y":{"datum":11.0},"y2":{"datum":5.8}}},
  {"data":{"values":[{}]},"mark":{"type":"rule","color":"#000","strokeWidth":1.2},"encoding":{"x":{"datum":1666.7,"axis":null},"x2":{"datum":1603.9},"y":{"datum":11.0},"y2":{"datum":8.3}}},
  {"data":{"values":[{}]},"mark":{"type":"point","shape":"M-1,-0.5L0,0L-1,0.5","size":400,"filled":false,"color":"#000","strokeWidth":1.2,"opacity":1},"encoding":{"x":{"datum":1750.4,"axis":null},"y":{"datum":11.0}}},
  {"data":{"values":[{}]},"mark":{"type":"point","shape":"M-1,-0.5L0,0L-1,0.5","size":400,"filled":false,"color":"#000","strokeWidth":1.2,"angle":90,"opacity":1},"encoding":{"x":{"datum":1666.7,"axis":null},"y":{"datum":5.8}}},
  {"data":{"values":[{}]},"mark":{"type":"point","shape":"M-1,-0.5L0,0L-1,0.5","size":400,"filled":false,"color":"#000","strokeWidth":1.2,"angle":149,"opacity":1},"encoding":{"x":{"datum":1603.9,"axis":null},"y":{"datum":8.3}}},
  {"data":{"values":[{}]},"mark":{"type":"text","text":"X","fontSize":18,"color":"#000","align":"center","baseline":"middle"},"encoding":{"x":{"datum":1736.7,"axis":null},"y":{"datum":12.7}}},
  {"data":{"values":[{}]},"mark":{"type":"text","text":"Y","fontSize":18,"color":"#000","align":"center","baseline":"middle"},"encoding":{"x":{"datum":1598,"axis":null},"y":{"datum":10.3}}},
  {"data":{"values":[{}]},"mark":{"type":"text","text":"Z","fontSize":18,"color":"#000","align":"center","baseline":"middle"},"encoding":{"x":{"datum":1698.1,"axis":null},"y":{"datum":5.4}}}
 ]
}
]
}
